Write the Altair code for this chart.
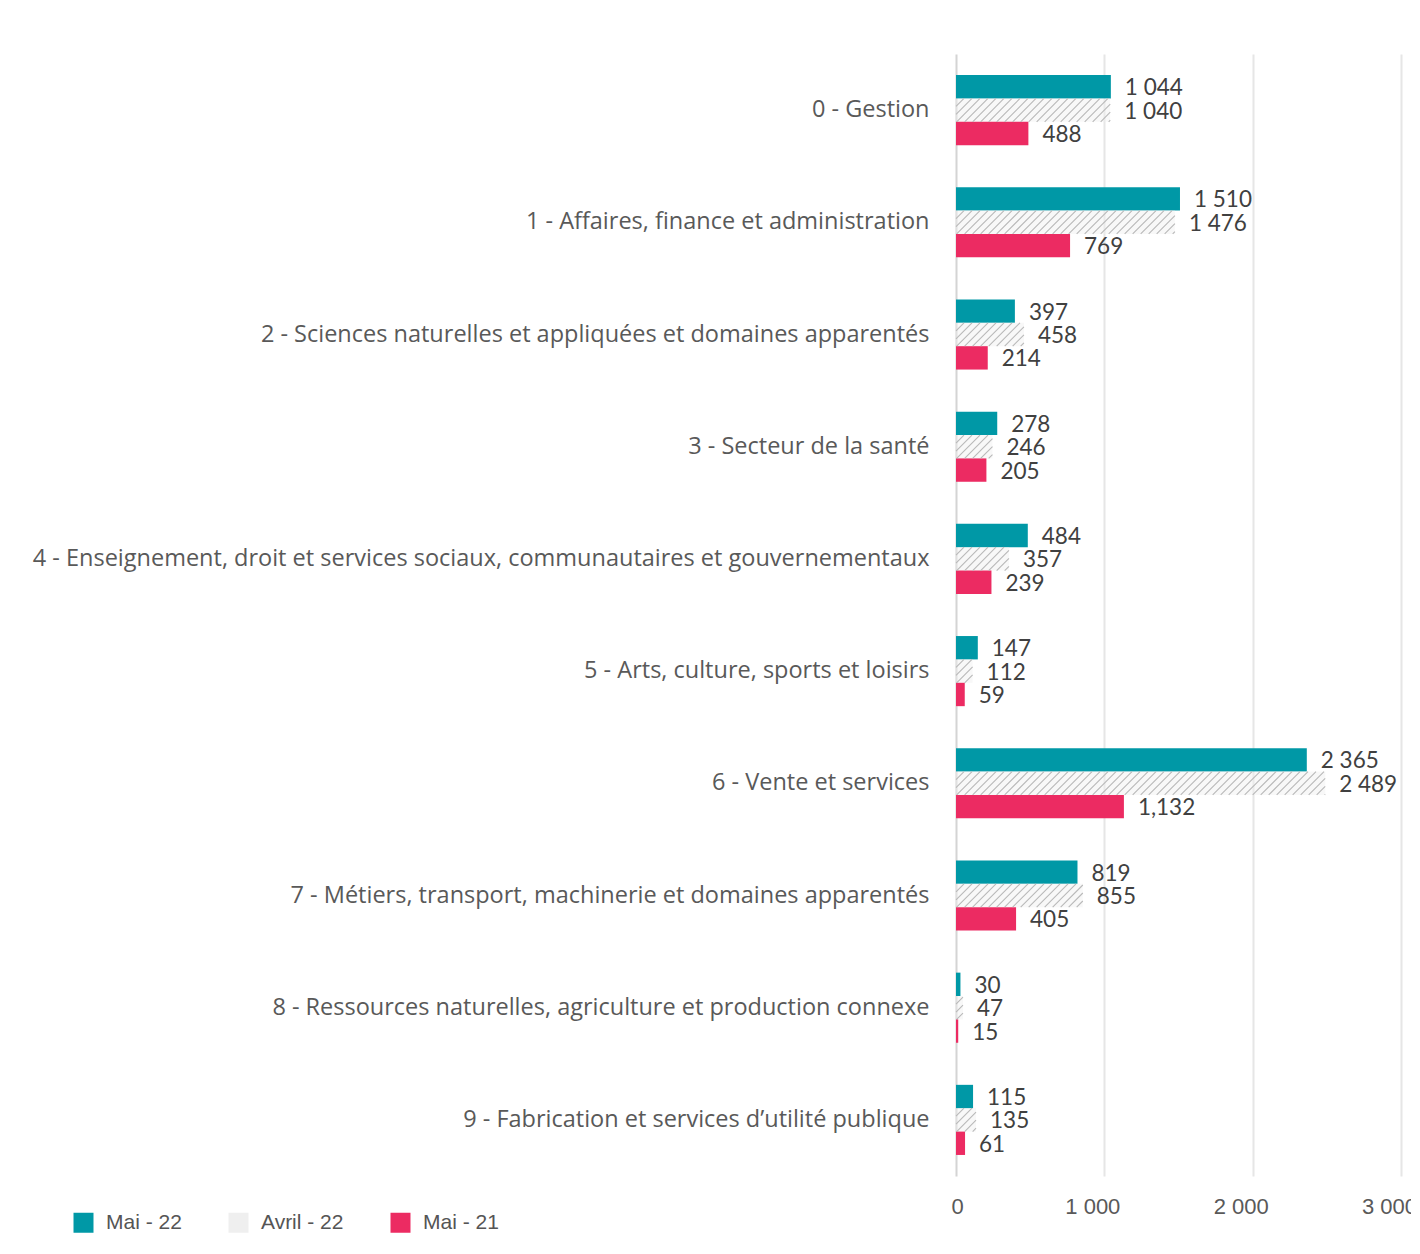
import altair as alt
import pandas as pd

categories = [
    "0 - Gestion",
    "1 - Affaires, finance et administration",
    "2 - Sciences naturelles et appliquées et domaines apparentés",
    "3 - Secteur de la santé",
    "4 - Enseignement, droit et services sociaux, communautaires et gouvernementaux",
    "5 - Arts, culture, sports et loisirs",
    "6 - Vente et services",
    "7 - Métiers, transport, machinerie et domaines apparentés",
    "8 - Ressources naturelles, agriculture et production connexe",
    "9 - Fabrication et services d’utilité publique",
]
series = ["Mai - 22", "Avril - 22", "Mai - 21"]
mai22 = [1044, 1510, 397, 278, 484, 147, 2365, 819, 30, 115]
avril22 = [1040, 1476, 458, 246, 357, 112, 2489, 855, 47, 135]
mai21 = [488, 769, 214, 205, 239, 59, 1132, 405, 15, 61]
mai22_labels = ["1 044", "1 510", "397", "278", "484", "147", "2 365", "819", "30", "115"]
avril22_labels = ["1 040", "1 476", "458", "246", "357", "112", "2 489", "855", "47", "135"]
mai21_labels = ["488", "769", "214", "205", "239", "59", "1,132", "405", "15", "61"]
x_ticks = [0, 1000, 2000, 3000]
colors = ["#0098a6", "#efefef", "#ec2b62"]

# layout
PLOT_W, PLOT_H = 445, 1122
X_MAX = 3000
SUB_H = 70.0 / 3  # height of one bar inside a group
HATCH_STEP = 8.0

rows = []
for vals, labs, s in [(mai22, mai22_labels, series[0]), (avril22, avril22_labels, series[1]), (mai21, mai21_labels, series[2])]:
    for c, v, l in zip(categories, vals, labs):
        rows.append({"cat": c, "series": s, "value": v, "label": l})
df = pd.DataFrame(rows)


def hatch_path(v):
    W = v * PLOT_W / X_MAX
    h = SUB_H
    segs = []
    b = -h
    while b <= W:
        t0 = max(0.0, (0 - b) / h)
        t1 = min(1.0, (W - b) / h)
        if t1 > t0:
            x0, y0 = b + t0 * h - W / 2, h / 2 - t0 * h
            x1, y1 = b + t1 * h - W / 2, h / 2 - t1 * h
            segs.append(f"M{x0:.2f},{y0:.2f}L{x1:.2f},{y1:.2f}")
        b += HATCH_STEP
    return "".join(segs) if segs else "M0,0"


hatch_df = pd.DataFrame({
    "cat": categories,
    "series": [series[1]] * len(categories),
    "mid": [v / 2 for v in avril22],
    "path": [hatch_path(v) for v in avril22],
})

y_enc = alt.Y("cat:N", sort=categories, title=None,
              scale=alt.Scale(domain=categories, paddingInner=0.375, paddingOuter=0.1875),
              axis=alt.Axis(labelFont="Open Sans", labelFontSize=23.5, labelColor="#595959",
                            labelPadding=27, ticks=False, domain=False, labelLimit=1000))
yoff_enc = alt.YOffset("series:N", sort=series,
                       scale=alt.Scale(domain=series, paddingInner=0, paddingOuter=0))
x_scale = alt.Scale(domain=[0, X_MAX], nice=False)

bars = alt.Chart(df).mark_bar(cornerRadius=0).encode(
    x=alt.X("value:Q", scale=x_scale, title=None,
            axis=alt.Axis(values=x_ticks, labelExpr="replace(format(datum.value, ','), ',', ' ')",
                          labelFont="Liberation Sans", labelFontSize=22, labelColor="#595959",
                          labelPadding=20, ticks=False, domain=False, grid=True, labelFlush=False,
                          labelOffset=alt.condition("datum.value === 0", alt.value(1), alt.value(-12)),
                          gridColor=alt.condition("datum.value === 0", alt.value("#d4d4d4"), alt.value("#e6e6e6")),
                          gridWidth=2)),
    y=y_enc,
    yOffset=yoff_enc,
    color=alt.Color("series:N", sort=series,
                    scale=alt.Scale(domain=series, range=colors),
                    legend=alt.Legend(title=None, orient="none", direction="horizontal",
                                      legendX=-883, legendY=1158, symbolType="square",
                                      symbolSize=400, symbolStrokeWidth=0, labelFont="Liberation Sans",
                                      labelFontSize=21, labelColor="#555555", labelOffset=12,
                                      columnPadding=46, padding=0)),
    opacity=alt.condition("datum.series === 'Avril - 22'", alt.value(0.45), alt.value(1)),
)

hatch = alt.Chart(hatch_df).mark_point(filled=False, size=4, opacity=1, color="#b9b9b9",
                                        strokeWidth=1.1).encode(
    x=alt.X("mid:Q", scale=x_scale),
    y=alt.Y("cat:N", sort=categories),
    yOffset=alt.YOffset("series:N", sort=series),
    shape=alt.Shape("path:N", scale=None),
)

labels = alt.Chart(df).mark_text(align="left", baseline="middle", dx=14, dy=1.5, font="Lato",
                                  fontSize=22.5, color="#404040").encode(
    x=alt.X("value:Q", scale=x_scale),
    y=alt.Y("cat:N", sort=categories),
    yOffset=alt.YOffset("series:N", sort=series),
    text="label:N",
)

chart = alt.layer(bars, hatch, labels).properties(
    width=PLOT_W, height=PLOT_H,
    autosize=alt.AutoSizeParams(type="none"),
    padding={"left": 948, "top": 46, "right": 10, "bottom": 64},
    background="#ffffff",
).configure_view(stroke=None)

chart.save("out.html", embed_options={"renderer": "svg", "actions": False})
